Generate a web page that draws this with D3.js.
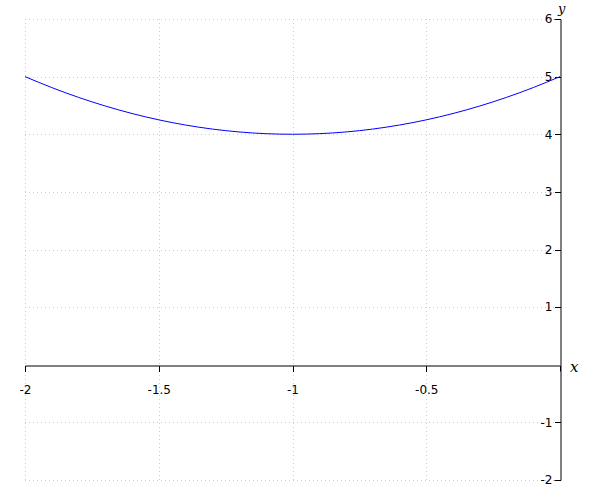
<!DOCTYPE html>
<html>
<head>
<meta charset="utf-8">
<script src="https://cdn.jsdelivr.net/npm/d3@7"></script>
<style>
  body { margin: 0; background: #fff; }
  svg text { font-family: "DejaVu Sans", sans-serif; }
</style>
</head>
<body>
<svg id="chart" width="600" height="500"></svg>
<script>
"use strict";

// points
var xs = [-2, -1.9, -1.8, -1.7, -1.6, -1.5, -1.4, -1.3, -1.2, -1.1, -1,
          -0.9, -0.8, -0.7, -0.6, -0.5, -0.4, -0.3, -0.2, -0.1, 0];
var ys = [5, 4.81, 4.64, 4.49, 4.36, 4.25, 4.16, 4.09, 4.04, 4.01, 4,
          4.01, 4.04, 4.09, 4.16, 4.25, 4.36, 4.49, 4.64, 4.81, 5];

var xTicks = [-2, -1.5, -1, -0.5];
var yTicks = [-2, -1, 1, 2, 3, 4, 5, 6];

var svg = d3.select("#chart");

var x = d3.scaleLinear().domain([-2, 0]).range([25, 560]);
var y = d3.scaleLinear().domain([-2, 6]).range([480, 19]);

// plain hyphen minus, like the original
var fmt = d => String(d);

// dotted grid
var grid = svg.append("g")
  .attr("stroke", "#ccc")
  .attr("stroke-width", 1)
  .attr("stroke-dasharray", "1,3");

grid.selectAll("line.v")
  .data(xTicks)
  .enter().append("line")
  .attr("x1", d => Math.round(x(d)) + 0.5)
  .attr("x2", d => Math.round(x(d)) + 0.5)
  .attr("y1", y(6))
  .attr("y2", y(-2));

grid.selectAll("line.h")
  .data(yTicks)
  .enter().append("line")
  .attr("x1", x(-2))
  .attr("x2", x(0))
  .attr("y1", d => Math.round(y(d)) + 0.5)
  .attr("y2", d => Math.round(y(d)) + 0.5);

// axes
var xAxis = svg.append("g")
  .attr("transform", `translate(0,${Math.round(y(0)) + 0.5})`)
  .call(d3.axisBottom(x).tickValues(xTicks).tickSize(6).tickSizeOuter(6).tickFormat(fmt));
xAxis.selectAll("text").attr("font-size", 12).attr("dy", "1.6em").attr("fill", "#000");

var yAxis = svg.append("g")
  .attr("transform", `translate(${Math.round(x(0)) + 0.5},0)`)
  .call(d3.axisLeft(y).tickValues(yTicks).tickSize(6).tickSizeOuter(6).tickFormat(fmt));
yAxis.selectAll("text").attr("font-size", 12).attr("x", -8).attr("fill", "#000");

svg.selectAll(".domain, .tick line").attr("stroke", "#000");
svg.selectAll(".tick line").attr("shape-rendering", "crispEdges");

// curve
var pts = xs.map((d, i) => [d, ys[i]]);
svg.append("path")
  .datum(pts)
  .attr("fill", "none")
  .attr("stroke", "#0000ff")
  .attr("stroke-width", 1)
  .attr("d", d3.line().x(d => x(d[0])).y(d => y(d[1])).curve(d3.curveMonotoneX));

// axis names
svg.append("text")
  .attr("x", 570).attr("y", 372)
  .style("font-family", "'DejaVu Serif', serif")
  .style("font-style", "italic")
  .style("font-size", "15px")
  .text("x");

svg.append("text")
  .attr("x", 558).attr("y", 13)
  .style("font-family", "'DejaVu Serif', serif")
  .style("font-style", "italic")
  .style("font-size", "13px")
  .text("y");
</script>
</body>
</html>
